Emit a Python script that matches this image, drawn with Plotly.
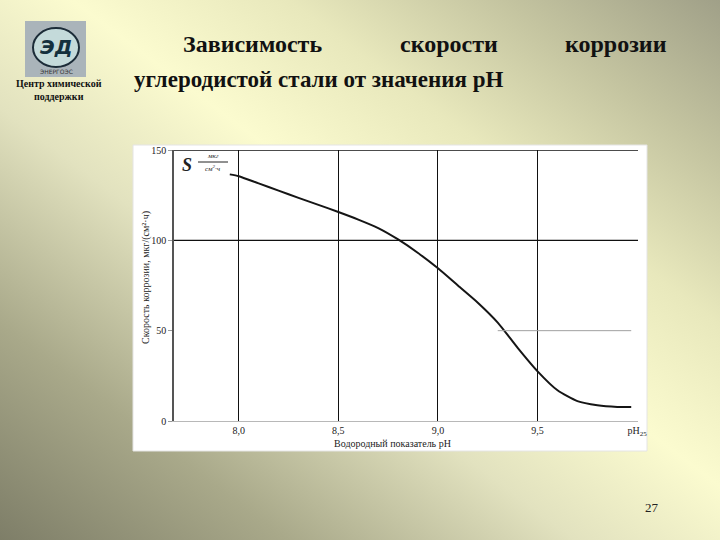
import base64
import plotly.graph_objects as go

# ---- data ----
ph = [7.955, 8.0, 8.1, 8.2, 8.3, 8.4, 8.5, 8.6, 8.7, 8.8, 8.9, 9.0, 9.1, 9.2,
      9.3, 9.4, 9.5, 9.6, 9.7, 9.8, 9.9, 9.97]
rate = [136.5, 135.5, 131.5, 127.5, 123.5, 119.6, 115.7, 111.5, 106.8, 100.5,
        93.0, 84.5, 75.0, 65.5, 54.5, 40.5, 27.5, 17.0, 11.0, 8.7, 7.8, 7.7]

x_tickvals = [8.0, 8.5, 9.0, 9.5, 10.0]
x_ticktext = ["8,0", "8,5", "9,0", "9,5", "pH<sub>25</sub>"]
y_tickvals = [0, 50, 100, 150]
y_ticktext = ["0", "50", "100", "150"]
y_grid_dark = [100, 150]
y_grid_light_from = 9.3
y_grid_light_to = 9.97
y_grid_light = 50

title_line1 = ["Зависимость", "скорости", "коррозии"]
title_line2 = "углеродистой стали от значения рН"

# ---- geometry helpers (pixel -> paper) ----
L, R, T, B = 174, 638, 150, 421
W, H = R - L, B - T


def px(x):
    return (x - L) / W


def py(y):
    return (B - y) / H


SERIF = "Times New Roman, Liberation Serif, DejaVu Serif, serif"

svg = (
    '<svg xmlns="http://www.w3.org/2000/svg" width="720" height="540" '
    'viewBox="0 0 720 540" preserveAspectRatio="none">'
    '<defs><linearGradient id="g" x1="0" y1="1" x2="1" y2="0">'
    '<stop offset="0" stop-color="#7e7e68"/>'
    '<stop offset="0.2" stop-color="#a9a98a"/>'
    '<stop offset="0.4" stop-color="#e2e2bf"/>'
    '<stop offset="0.55" stop-color="#fbfbcf"/>'
    '<stop offset="0.7" stop-color="#e8e8bc"/>'
    '<stop offset="0.85" stop-color="#c4c4a0"/>'
    '<stop offset="1" stop-color="#a0a088"/>'
    '</linearGradient></defs>'
    '<rect width="720" height="540" fill="url(#g)"/></svg>'
)
bg_src = "data:image/svg+xml;base64," + base64.b64encode(svg.encode()).decode()

fig = go.Figure()
fig.add_trace(go.Scatter(
    x=ph, y=rate, mode="lines",
    line=dict(color="#151515", width=2, shape="spline", smoothing=0.6),
    hoverinfo="skip", showlegend=False,
))

shapes = []
# white chart panel
shapes.append(dict(type="rect", xref="paper", yref="paper",
                   x0=px(133), x1=px(647), y0=py(451), y1=py(145),
                   fillcolor="white", line=dict(color="#e4e4e4", width=1),
                   layer="below"))
# horizontal grid lines
for v in y_grid_dark:
    shapes.append(dict(type="line", xref="paper", yref="y", x0=0, x1=1,
                       y0=v, y1=v, line=dict(color="#111111", width=1.3),
                       layer="above"))
shapes.append(dict(type="line", xref="x", yref="y", x0=y_grid_light_from,
                   x1=y_grid_light_to, y0=y_grid_light, y1=y_grid_light,
                   line=dict(color="#a0a0a0", width=1), layer="above"))
# fraction bar of the unit label
shapes.append(dict(type="line", xref="paper", yref="paper",
                   x0=px(198), x1=px(228), y0=py(162), y1=py(162),
                   line=dict(color="#222", width=1)))
# logo
shapes.append(dict(type="rect", xref="paper", yref="paper",
                   x0=px(25), x1=px(86), y0=py(77), y1=py(21),
                   fillcolor="#aab4ba", line=dict(width=0), layer="below"))
shapes.append(dict(type="circle", xref="paper", yref="paper",
                   x0=px(33), x1=px(79), y0=py(67), y1=py(28),
                   fillcolor="#c4dada", line=dict(color="#1c2c38", width=2),
                   layer="below"))


def text(t, x, y, size, family=SERIF, color="#111", angle=0, xa="center"):
    return dict(text=t, x=px(x), y=py(y), xref="paper", yref="paper",
                showarrow=False, xanchor=xa, yanchor="middle",
                textangle=angle, font=dict(family=family, size=size,
                                           color=color))


ann = []
# title line 1 (justified)
ann.append(text("<b>" + title_line1[0] + "</b>", 181, 44, 24, xa="left"))
ann.append(text("<b>" + title_line1[1] + "</b>", 449, 44, 24))
ann.append(text("<b>" + title_line1[2] + "</b>", 669, 44, 24, xa="right"))
ann.append(text("<b>" + title_line2 + "</b>", 132, 79, 23, xa="left"))
# logo texts
ann.append(text("<b><i>ЭД</i></b>", 56, 47, 20, family="DejaVu Sans",
                color="#14303e"))
ann.append(text("ЭНЕРГОЭС", 56, 72, 6, family="DejaVu Sans", color="#333"))
ann.append(text("<b>Центр химической</b><br><b>поддержки</b>", 59, 90, 10))
# axis titles
ann.append(text("Скорость коррозии, мкг/(см²·ч)", 146, 278, 10,
                color="#222", angle=-90))
ann.append(text("Водородный показатель pH", 392, 443, 10, color="#222"))
# unit label S mkg/(cm2 h)
ann.append(text("<b><i>S</i></b>", 187, 165, 18, color="#222"))
ann.append(text("<i>мкг</i>", 213, 156, 7, color="#222"))
ann.append(text("<i>см<sup>2</sup>·ч</i>", 213, 168, 7, color="#222"))
# page number
ann.append(text("27", 652, 507, 13, color="#222"))

fig.update_layout(
    width=720, height=540,
    margin=dict(l=L, r=720 - R, t=T, b=540 - B),
    paper_bgcolor="#eeeec4", plot_bgcolor="rgba(0,0,0,0)",
    images=[dict(source=bg_src, xref="paper", yref="paper",
                 x=px(0), y=py(0), sizex=720 / W, sizey=540 / H,
                 xanchor="left", yanchor="top", sizing="stretch",
                 layer="below")],
    shapes=shapes, annotations=ann,
    xaxis=dict(range=[7.675, 10.004], tickvals=x_tickvals,
               ticktext=x_ticktext, showgrid=True, gridcolor="#111111",
               gridwidth=1.3, zeroline=False, showline=True,
               linecolor="#b8b8b8", linewidth=1, ticks="",
               tickfont=dict(family=SERIF, size=10, color="#222")),
    yaxis=dict(range=[0, 150], tickvals=y_tickvals, ticktext=y_ticktext,
               showgrid=False, zeroline=False, showline=True,
               linecolor="#555555", linewidth=1.5, ticks="outside",
               ticklen=4, tickcolor="#999",
               tickfont=dict(family=SERIF, size=10, color="#222")),
    showlegend=False,
)

fig.write_html(
    "out.html",
    config={"displayModeBar": False},
    post_script="document.body.style.margin='0';"
                "document.body.style.padding='0';",
)
